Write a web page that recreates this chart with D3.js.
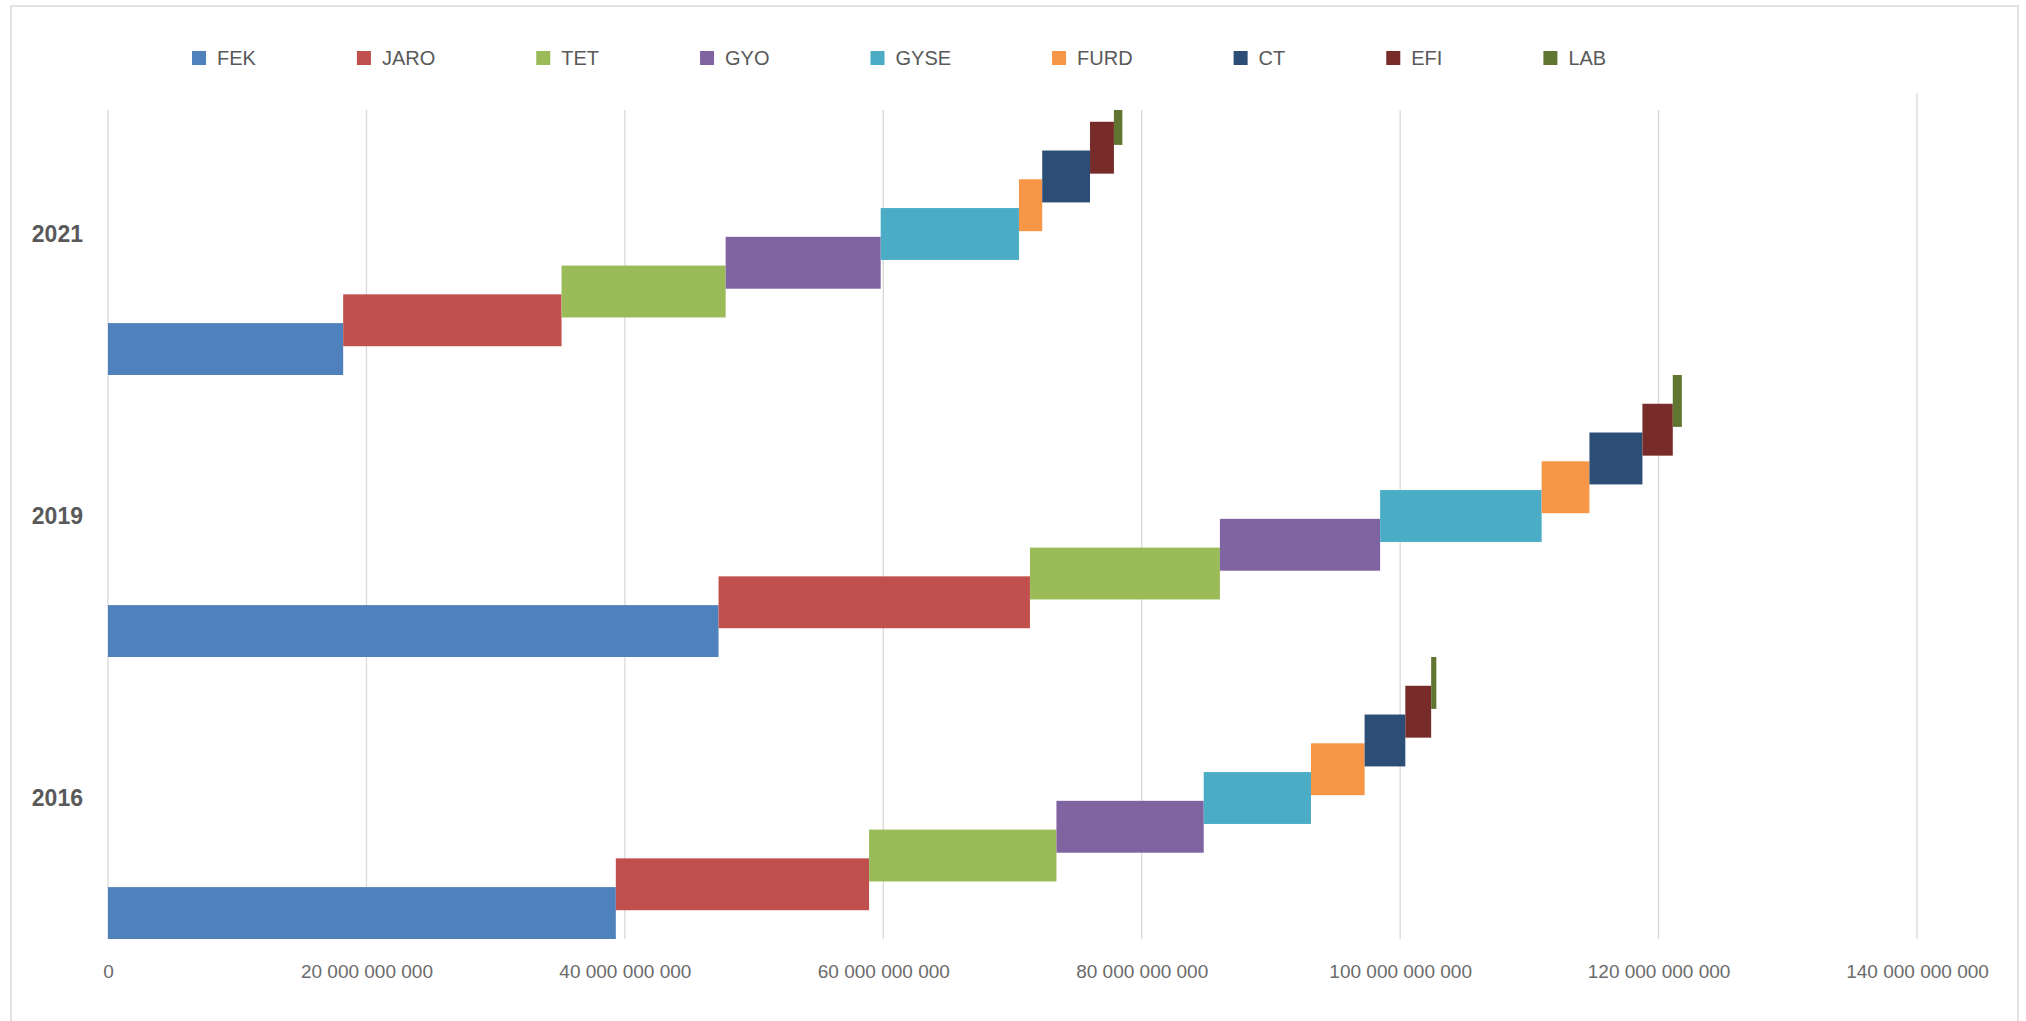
<!DOCTYPE html>
<html>
<head>
<meta charset="utf-8">
<script src="https://cdn.jsdelivr.net/npm/d3@7"></script>
<style>
  body { margin: 0; background: #fff; }
  text { font-family: "Liberation Sans", Arial, sans-serif; }
</style>
</head>
<body>
<svg id="chart"></svg>
<script>
const years = ["2016", "2019", "2021"];
const series = ["FEK", "JARO", "TET", "GYO", "GYSE", "FURD", "CT", "EFI", "LAB"];
const colors = ["#4F81BD", "#C0504D", "#9BBB59", "#8064A2", "#4BACC6", "#F79646", "#2C4D75", "#772C2A", "#5F7530"];

// values per year, same order as series
const values2016 = [39.3e9, 19.6e9, 14.5e9, 11.4e9, 8.3e9, 4.15e9, 3.15e9, 2.0e9, 0.4e9];
const values2019 = [47.25e9, 24.1e9, 14.7e9, 12.4e9, 12.5e9, 3.7e9, 4.1e9, 2.35e9, 0.7e9];
const values2021 = [18.2e9, 16.9e9, 12.7e9, 12.0e9, 10.7e9, 1.8e9, 3.7e9, 1.85e9, 0.65e9];

const xTicks = [0, 20e9, 40e9, 60e9, 80e9, 100e9, 120e9, 140e9];

const width = 2026, height = 1021;
const plot = { left: 108, right: 1917, top: 93, bottom: 939 };

const svg = d3.select("#chart").attr("width", width).attr("height", height);

// --- outer frame ---
svg.append("rect")
  .attr("x", 11).attr("y", 6)
  .attr("width", 2007).attr("height", 1030)
  .attr("fill", "#fff")
  .attr("stroke", "#d9d9d9")
  .attr("stroke-width", 1.5);

// --- scales ---
const x = d3.scaleLinear().domain([0, 140e9]).range([plot.left, plot.right]);
const y = d3.scaleBand().domain(["2021", "2019", "2016"]).range([plot.top, plot.bottom]);
const barH = y.bandwidth() * 0.184;
const inner = d3.scalePoint().domain(series).range([y.bandwidth() - barH, 0]);
const color = d3.scaleOrdinal().domain(series).range(colors);

// --- data table + stack ---
const valuesByYear = { "2016": values2016, "2019": values2019, "2021": values2021 };
const table = years.map(yr => {
  const row = { year: yr };
  series.forEach((s, i) => row[s] = valuesByYear[yr][i]);
  return row;
});
const stacked = d3.stack().keys(series)(table);

// --- gridlines ---
svg.append("g")
  .selectAll("line")
  .data(xTicks)
  .join("line")
  .attr("x1", d => x(d)).attr("x2", d => x(d))
  .attr("y1", plot.top).attr("y2", plot.bottom)
  .attr("stroke", "#d9d9d9")
  .attr("stroke-width", 1.3);

// --- bars ---
svg.append("g")
  .selectAll("g")
  .data(stacked)
  .join("g")
  .attr("fill", d => color(d.key))
  .selectAll("rect")
  .data(d => d.map(p => ({ key: d.key, year: p.data.year, x0: p[0], x1: p[1] })))
  .join("rect")
  .attr("x", d => x(d.x0))
  .attr("y", d => y(d.year) + inner(d.key))
  .attr("width", d => x(d.x1) - x(d.x0))
  .attr("height", barH);

// --- x axis labels ---
const fmt = v => d3.format(",")(v).replace(/,/g, " ");
const xAxis = svg.append("g")
  .attr("transform", `translate(0,${plot.bottom + 22})`)
  .call(d3.axisBottom(x).tickValues(xTicks).tickFormat(fmt).tickSize(0));
xAxis.select(".domain").remove();
xAxis.selectAll("text")
  .attr("font-family", "Liberation Sans, Arial, sans-serif")
  .attr("font-size", 19)
  .attr("fill", "#6b6b6b");

// --- year labels ---
svg.append("g")
  .selectAll("text")
  .data(years)
  .join("text")
  .attr("x", 83)
  .attr("y", d => y(d) + y.bandwidth() / 2)
  .attr("dy", "0.36em")
  .attr("text-anchor", "end")
  .attr("font-size", 23)
  .attr("font-weight", "bold")
  .attr("fill", "#595959")
  .text(d => d);

// --- legend (white box sits over top of plot, like the original) ---
const legend = svg.append("g");
legend.append("rect")
  .attr("x", 40).attr("y", 30)
  .attr("width", 1840).attr("height", 80)
  .attr("fill", "#fff");

let lx = 192;
series.forEach(s => {
  const item = legend.append("g").attr("transform", `translate(${lx},58)`);
  item.append("rect")
    .attr("x", 0).attr("y", -7)
    .attr("width", 14).attr("height", 14)
    .attr("fill", color(s));
  const t = item.append("text")
    .attr("x", 25).attr("dy", "0.36em")
    .attr("font-size", 20)
    .attr("fill", "#595959")
    .text(s);
  lx += 25 + t.node().getComputedTextLength() + 101;
});
</script>
</body>
</html>
